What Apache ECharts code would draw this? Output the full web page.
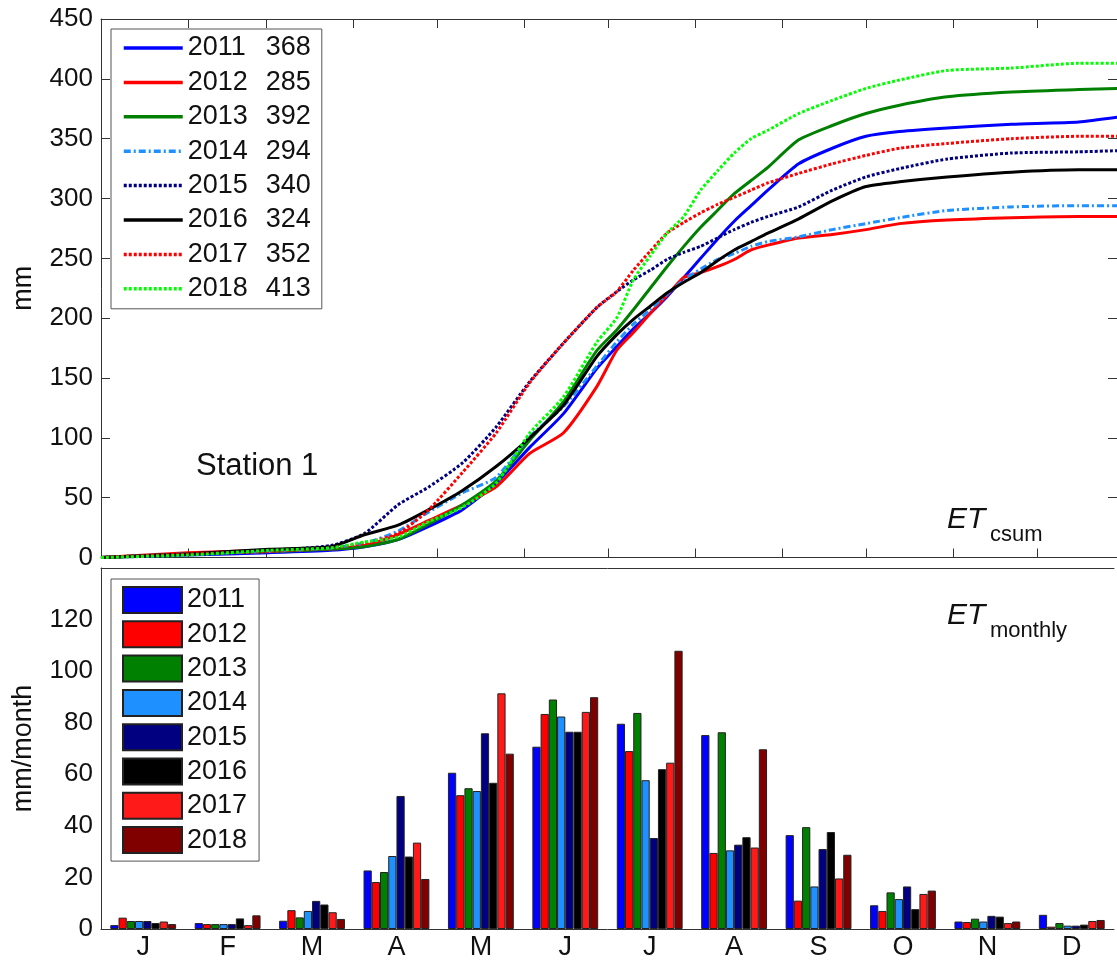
<!DOCTYPE html>
<html><head><meta charset="utf-8">
<script src="https://cdn.jsdelivr.net/npm/echarts@6/dist/echarts.min.js"></script>
<style>html,body{margin:0;padding:0;background:#fff}#c{width:1117px;height:961px}</style>
</head><body><div id="c"></div>
<script>
// ---------- data ----------
const years = ['2011','2012','2013','2014','2015','2016','2017','2018'];
const totals = [368, 285, 392, 294, 340, 324, 352, 413];
const monthNames = ['Jan','Feb','Mar','Apr','May','Jun','Jul','Aug','Sep','Oct','Nov','Dec'];
const monthStarts = [31, 59, 90, 120, 151, 181, 212, 243, 273, 304, 334];
const yTicksTop = [0, 450, 50];
const yTicksBottom = [0, 140, 20];

// day of year for the cumulative curves
const days = [0, 31, 60, 82, 94, 106, 117, 129, 141, 153, 165, 177, 184, 190, 196, 202, 208, 214, 220, 226, 232, 238, 249, 261, 273, 285, 302, 325, 349, 363];
// cumulative ET (mm)
const c2011 = [0, 2, 4, 6, 9, 15, 26, 40, 62, 92, 120, 158, 176, 191, 204, 218, 234, 250, 266, 281, 294, 307, 329, 342, 352, 356, 359, 362, 364, 368];
const c2012 = [0, 4, 6, 7, 10, 19, 31, 44, 59, 87, 104, 143, 173, 188, 204, 219, 234, 238, 243, 249, 257, 261, 267, 270, 274, 279, 282, 284, 285, 285];
const c2013 = [0, 3, 5, 7, 9, 15, 28, 44, 64, 98, 130, 173, 190, 207, 225, 243, 260, 276, 290, 304, 315, 326, 349, 361, 371, 378, 385, 389, 391, 392];
const c2014 = [0, 3, 5, 8, 12, 22, 38, 54, 67, 101, 126, 160, 180, 195, 207, 220, 232, 241, 249, 254, 260, 264, 268, 274, 279, 284, 290, 293, 294, 294];
const c2015 = [0, 3, 6, 10, 20, 44, 59, 79, 109, 147, 179, 209, 222, 232, 240, 249, 255, 260, 267, 274, 280, 285, 293, 307, 318, 325, 333, 338, 339, 340];
const c2016 = [0, 3, 7, 9, 19, 27, 40, 56, 76, 100, 127, 168, 186, 199, 210, 221, 230, 238, 248, 257, 264, 271, 283, 298, 310, 314, 318, 322, 324, 324];
const c2017 = [0, 3, 5, 8, 12, 20, 40, 71, 104, 146, 179, 209, 222, 240, 256, 271, 280, 288, 295, 301, 307, 313, 321, 329, 336, 342, 346, 350, 352, 352];
const c2018 = [0, 2, 6, 8, 13, 17, 30, 42, 62, 104, 134, 180, 200, 232, 252, 271, 285, 307, 323, 338, 350, 357, 371, 382, 392, 399, 407, 409, 413, 413];

// monthly ET (mm/month), Jan..Dec
const m2011 = [1.5, 2.3, 3.2, 22.7, 60.6, 70.7, 79.6, 75.2, 36.4, 9.2, 2.9, 5.5];
const m2012 = [4.4, 1.9, 7.3, 18.2, 51.9, 83.4, 69.0, 29.5, 11.0, 7.0, 2.7, 0.9];
const m2013 = [3.1, 1.9, 4.5, 22.1, 54.6, 89.0, 83.8, 76.3, 39.5, 14.2, 4.0, 2.3];
const m2014 = [3.1, 1.9, 7.0, 28.3, 53.5, 82.4, 57.7, 30.5, 16.5, 11.6, 2.9, 1.3];
const m2015 = [3.1, 1.9, 10.9, 51.6, 75.9, 76.5, 35.3, 32.7, 31.0, 16.5, 5.1, 1.3];
const m2016 = [2.3, 4.1, 9.5, 28.1, 56.7, 76.5, 62.0, 35.6, 37.6, 7.7, 4.8, 1.7];
const m2017 = [2.9, 1.5, 6.5, 33.5, 91.4, 84.2, 64.5, 31.6, 19.6, 13.6, 2.3, 3.1];
const m2018 = [1.9, 5.3, 3.9, 19.4, 68.0, 89.9, 107.9, 69.7, 28.8, 14.9, 2.9, 3.5];

// ---------- styles ----------
const cumul = [c2011, c2012, c2013, c2014, c2015, c2016, c2017, c2018];
const monthly = [m2011, m2012, m2013, m2014, m2015, m2016, m2017, m2018];
const lineColors = ['#0000ff', '#ff0000', '#008000', '#1e90ff', '#000080', '#000000', '#ff0000', '#00ff00'];
const lineTypes = ['solid', 'solid', 'solid', [7, 3, 2, 3], [3, 2], 'solid', [3, 2], [3, 2]];
const barColors = ['#0000ff', '#ff0000', '#008000', '#1e90ff', '#000080', '#000000', '#ff1a1a', '#800000'];
const FONT = '"Liberation Sans", Arial, Helvetica, sans-serif';
const AX = '#333';

const lineNames = years.map((y, i) => y + ' ' + totals[i]);

const tickCommon = { inside: true, length: 9, lineStyle: { color: AX, width: 1 } };
const lineCommon = { show: true, onZero: false, lineStyle: { color: AX, width: 1 } };

const series = [];
years.forEach((y, i) => {
  series.push({
    name: lineNames[i], type: 'line', xAxisIndex: 0, yAxisIndex: 0,
    data: days.map((d, k) => [d, cumul[i][k]]),
    symbol: 'none', smooth: 0.2,
    lineStyle: { color: lineColors[i], width: 3, type: lineTypes[i] },
    itemStyle: { color: lineColors[i] },
    z: 3
  });
});
years.forEach((y, i) => {
  series.push({
    name: y, type: 'bar', xAxisIndex: 2, yAxisIndex: 2,
    data: monthly[i], barGap: '0%', barCategoryGap: '22%',
    itemStyle: { color: barColors[i], borderColor: '#222', borderWidth: 1 }
  });
});

const chart = echarts.init(document.getElementById('c'), null, { renderer: 'canvas' });
chart.setOption({
  animation: false,
  backgroundColor: '#fff',
  textStyle: { fontFamily: FONT, color: '#111' },
  grid: [
    { left: 101, top: 19, width: 1016, height: 538.5 },
    { left: 101, top: 568, width: 1013, height: 361 }
  ],
  xAxis: [
    { gridIndex: 0, type: 'value', min: 0, max: 362.6, position: 'bottom',
      axisLine: lineCommon, axisTick: Object.assign({ customValues: monthStarts }, tickCommon),
      axisLabel: { show: false }, splitLine: { show: false } },
    { gridIndex: 0, type: 'value', min: 0, max: 362.6, position: 'top',
      axisLine: lineCommon, axisTick: Object.assign({ customValues: monthStarts }, tickCommon),
      axisLabel: { show: false }, splitLine: { show: false } },
    { gridIndex: 1, type: 'category', data: monthNames, position: 'bottom', boundaryGap: true,
      axisLine: lineCommon, axisTick: Object.assign({ interval: 0 }, tickCommon),
      axisLabel: { interval: 0, formatter: v => v[0], fontSize: 27, color: '#111', margin: 5, fontFamily: FONT },
      splitLine: { show: false } },
    { gridIndex: 1, type: 'category', data: monthNames, position: 'top', boundaryGap: true,
      axisLine: lineCommon, axisTick: Object.assign({ interval: 0 }, tickCommon),
      axisLabel: { show: false }, splitLine: { show: false } }
  ],
  yAxis: [
    { gridIndex: 0, type: 'value', min: yTicksTop[0], max: yTicksTop[1], interval: yTicksTop[2], position: 'left',
      name: 'mm', nameLocation: 'middle', nameGap: 64,
      nameTextStyle: { fontSize: 27, color: '#111', fontFamily: FONT },
      axisLine: lineCommon, axisTick: tickCommon,
      axisLabel: { fontSize: 26, color: '#111', margin: 8, fontFamily: FONT }, splitLine: { show: false } },
    { gridIndex: 0, type: 'value', min: yTicksTop[0], max: yTicksTop[1], interval: yTicksTop[2], position: 'right',
      axisLine: lineCommon, axisTick: tickCommon, axisLabel: { show: false }, splitLine: { show: false } },
    { gridIndex: 1, type: 'value', min: yTicksBottom[0], max: yTicksBottom[1], interval: yTicksBottom[2], position: 'left',
      name: 'mm/month', nameLocation: 'middle', nameGap: 64,
      nameTextStyle: { fontSize: 27, color: '#111', fontFamily: FONT },
      axisLine: lineCommon, axisTick: tickCommon,
      axisLabel: { fontSize: 26, color: '#111', margin: 8, showMaxLabel: false, fontFamily: FONT }, splitLine: { show: false } },
    { gridIndex: 1, type: 'value', min: yTicksBottom[0], max: yTicksBottom[1], interval: yTicksBottom[2], position: 'right',
      axisLine: { show: false, onZero: false }, axisTick: tickCommon, axisLabel: { show: false }, splitLine: { show: false } }
  ],
  legend: [
    { data: lineNames, orient: 'vertical', left: 111, top: 29,
      itemWidth: 59, itemHeight: 14, itemGap: 4.4, padding: [4, 11, 5, 11],
      borderColor: '#555', borderWidth: 1, backgroundColor: '#fff',
      itemStyle: { opacity: 0 },
      lineStyle: { width: 3.5 },
      textStyle: { fontSize: 27, lineHeight: 30, color: '#111', fontFamily: FONT,
        rich: { y: { width: 78, fontSize: 27, fontFamily: FONT, color: '#111' },
                t: { fontSize: 27, fontFamily: FONT, color: '#111' } } },
      formatter: n => { const p = n.split(' '); return '{y|' + p[0] + '}{t|' + p[1] + '}'; } },
    { data: years, orient: 'vertical', left: 111, top: 579, icon: 'rect',
      itemWidth: 59, itemHeight: 26, itemGap: 4.3, padding: [6, 12, 6, 11],
      borderColor: '#555', borderWidth: 1, backgroundColor: '#fff',
      textStyle: { fontSize: 27, lineHeight: 30, color: '#111', fontFamily: FONT } }
  ],
  graphic: [
    { type: 'text', left: 196, top: 451, style: { text: 'Station 1', fontSize: 31, fill: '#111', fontFamily: FONT } },
    { type: 'text', left: 947, top: 505, style: { text: 'ET', fontSize: 30, fontStyle: 'italic', fill: '#111', fontFamily: FONT } },
    { type: 'text', left: 990, top: 524, style: { text: 'csum', fontSize: 22, fill: '#111', fontFamily: FONT } },
    { type: 'text', left: 947, top: 601, style: { text: 'ET', fontSize: 30, fontStyle: 'italic', fill: '#111', fontFamily: FONT } },
    { type: 'text', left: 990, top: 620, style: { text: 'monthly', fontSize: 22, fill: '#111', fontFamily: FONT } }
  ],
  series: series
});
</script>
</body></html>
